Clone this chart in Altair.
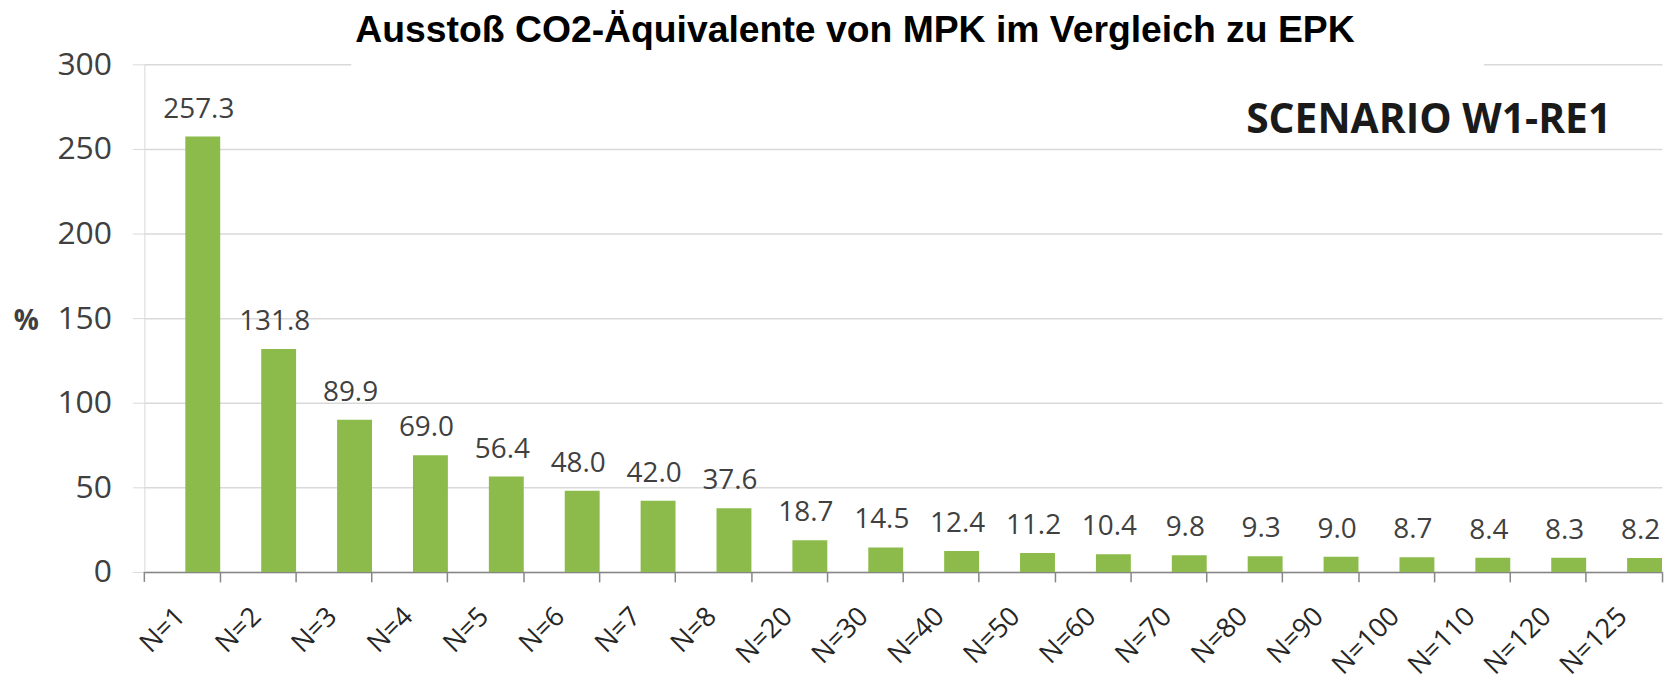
import altair as alt
import pandas as pd

categories = ["N=1", "N=2", "N=3", "N=4", "N=5", "N=6", "N=7", "N=8", "N=20", "N=30",
              "N=40", "N=50", "N=60", "N=70", "N=80", "N=90", "N=100", "N=110", "N=120", "N=125"]
values = [257.3, 131.8, 89.9, 69.0, 56.4, 48.0, 42.0, 37.6, 18.7, 14.5,
          12.4, 11.2, 10.4, 9.8, 9.3, 9.0, 8.7, 8.4, 8.3, 8.2]
y_ticks = [0, 50, 100, 150, 200, 250, 300]
title_text = "Ausstoß CO2-Äquivalente von MPK im Vergleich zu EPK"
scenario_text = "SCENARIO W1-RE1"
y_title = "%"

df = pd.DataFrame({"cat": categories, "val": values})

W, H = 1525, 510

x_enc = alt.X(
    "cat:N", sort=categories,
    scale=alt.Scale(paddingInner=0.54, paddingOuter=0.27, align=1),
    axis=alt.Axis(title=None, labelAngle=-45, labelAlign="right", labelBaseline="top",
                  bandPosition=1, labelOffset=-31, labelPadding=21, tickSize=10,
                  tickColor="#868686", domainColor="#868686", tickWidth=1.5, domainWidth=1.5,
                  labelFont="Open Sans", labelFontSize=27, labelColor="#262626",
                  grid=False),
)
y_enc = alt.Y(
    "val:Q", scale=alt.Scale(domain=[0, 300]),
    axis=alt.Axis(values=y_ticks, title=y_title, titleAngle=0, titleX=-119, titleY=258,
                  titleAlign="center", titleBaseline="middle", titleFont="Open Sans",
                  titleFontSize=28, titleFontWeight="bold", titleColor="#404040",
                  labelFont="Open Sans", labelFontSize=32, labelColor="#404040",
                  labelPadding=21, tickSize=12, tickColor="#d9d9d9",
                  domainColor="#d9d9d9", gridColor="#d9d9d9", gridWidth=1.5),
)

base = alt.Chart(df).encode(x=x_enc, y=y_enc)
bars = base.mark_bar(color="#8CBB4B")
labels = base.mark_text(dy=-19, dx=-4, baseline="alphabetic", font="Open Sans",
                        fontSize=28, color="#404040").encode(
    text=alt.Text("val:Q", format=".1f"))

one = pd.DataFrame({"t": [scenario_text]})
cover = alt.Chart(one).mark_rect(color="white").encode(
    x=alt.value(208), x2=alt.value(1346), y=alt.value(-12), y2=alt.value(4))
scenario = alt.Chart(one).mark_text(align="right", baseline="alphabetic", font="Open Sans",
                                    fontSize=41, fontWeight="bold", color="#1a1a1a").encode(
    x=alt.value(1474), y=alt.value(69), text="t:N")
first_tick = alt.Chart(one).mark_rule(color="#868686", strokeWidth=1.5).encode(
    x=alt.value(0), y=alt.value(H), y2=alt.value(H + 10))

chart = alt.layer(bars, cover, labels, scenario, first_tick).properties(
    width=W, height=H,
    title=alt.TitleParams(title_text, anchor="start", frame="group", dx=212, dy=35,
                          font="Liberation Sans", fontSize=37.5, fontWeight="bold",
                          color="black", baseline="alphabetic", offset=4),
    autosize=alt.AutoSizeParams(type="none"),
    padding={"left": 137, "top": 55, "right": 6, "bottom": 112},
    background="white",
).configure_view(stroke=None)

chart.save("out.html", embed_options={"renderer": "svg", "actions": False})
